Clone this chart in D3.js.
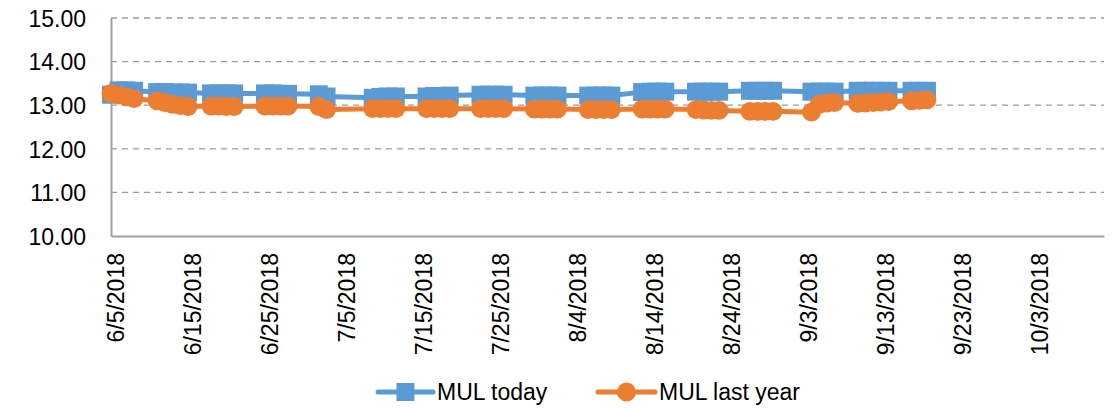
<!DOCTYPE html>
<html>
<head>
<meta charset="utf-8">
<script src="https://cdn.jsdelivr.net/npm/d3@7/dist/d3.min.js"></script>
<style>
  html, body { margin: 0; padding: 0; background: #fff; }
  svg { display: block; }
  text { font-family: "Liberation Sans", Arial, sans-serif; fill: #000; }
</style>
</head>
<body>
<svg id="chart" width="1116" height="409"></svg>
<script>
// ---- data ----
const dates = [
  "2018-06-05","2018-06-06","2018-06-07","2018-06-08",
  "2018-06-11","2018-06-12","2018-06-13","2018-06-14","2018-06-15",
  "2018-06-18","2018-06-19","2018-06-20","2018-06-21",
  "2018-06-25","2018-06-26","2018-06-27","2018-06-28",
  "2018-07-02","2018-07-03",
  "2018-07-09","2018-07-10","2018-07-11","2018-07-12",
  "2018-07-16","2018-07-17","2018-07-18","2018-07-19",
  "2018-07-23","2018-07-24","2018-07-25","2018-07-26",
  "2018-07-30","2018-07-31","2018-08-01","2018-08-02",
  "2018-08-06","2018-08-07","2018-08-08","2018-08-09",
  "2018-08-13","2018-08-14","2018-08-15","2018-08-16",
  "2018-08-20","2018-08-21","2018-08-22","2018-08-23",
  "2018-08-27","2018-08-28","2018-08-29","2018-08-30",
  "2018-09-04","2018-09-05","2018-09-06","2018-09-07",
  "2018-09-10","2018-09-11","2018-09-12","2018-09-13","2018-09-14",
  "2018-09-17","2018-09-18","2018-09-19"
];
const mulToday = [
  13.24,13.34,13.34,13.33,
  13.30,13.30,13.29,13.29,13.29,
  13.27,13.27,13.27,13.27,
  13.27,13.27,13.26,13.26,
  13.25,13.20,
  13.17,13.19,13.20,13.20,
  13.20,13.21,13.21,13.22,
  13.24,13.24,13.24,13.24,
  13.22,13.22,13.22,13.22,
  13.22,13.22,13.22,13.22,
  13.30,13.31,13.31,13.31,
  13.31,13.31,13.31,13.31,
  13.33,13.33,13.33,13.33,
  13.31,13.31,13.31,13.31,
  13.33,13.33,13.33,13.33,13.33,
  13.33,13.33,13.33
];
const mulLastYear = [
  13.27,13.23,13.19,13.15,
  13.10,13.06,13.02,12.99,12.97,
  12.98,12.98,12.97,12.97,
  12.98,12.98,12.98,12.98,
  12.97,12.90,
  12.92,12.92,12.92,12.92,
  12.92,12.92,12.92,12.92,
  12.92,12.92,12.92,12.92,
  12.91,12.91,12.91,12.91,
  12.90,12.90,12.90,12.90,
  12.91,12.91,12.91,12.91,
  12.90,12.89,12.88,12.88,
  12.86,12.86,12.86,12.86,
  12.84,13.02,13.05,13.06,
  13.04,13.05,13.06,13.07,13.08,
  13.10,13.11,13.12
];
const xTickLabels = ["6/5/2018","6/15/2018","6/25/2018","7/5/2018","7/15/2018","7/25/2018",
  "8/4/2018","8/14/2018","8/24/2018","9/3/2018","9/13/2018","9/23/2018","10/3/2018"];
const yTicks = [10, 11, 12, 13, 14, 15];
const seriesNames = ["MUL today", "MUL last year"];
const xDomain = ["2018-06-05", "2018-10-12"];

// ---- chart ----
const parse = d3.timeParse("%Y-%m-%d");
const parseLabel = d3.timeParse("%m/%d/%Y");
const svg = d3.select("#chart");
const mLeft = 111, mRight = 1104, mTop = 18, mBottom = 236;
const x = d3.scaleTime().domain(xDomain.map(parse)).range([mLeft, mRight]);
const y = d3.scaleLinear().domain([10, 15]).range([mBottom, mTop]);
const blue = "#5B9BD5", orange = "#ED7D31";
const fontSize = 23;

// gridlines
svg.append("g").selectAll("line").data(yTicks.filter(v => v > 10)).join("line")
  .attr("x1", mLeft).attr("x2", mRight)
  .attr("y1", d => y(d)).attr("y2", d => y(d))
  .attr("stroke", "#9b9b9b").attr("stroke-width", 1.3).attr("stroke-dasharray", "6,5");

// y axis via d3
const yAxis = d3.axisLeft(y).tickValues(yTicks).tickSize(0).tickPadding(25)
  .tickFormat(d3.format(".2f"));
const gy = svg.append("g").attr("transform", `translate(${mLeft},0)`).call(yAxis);
gy.select(".domain").attr("stroke", "#a0a0a0").attr("stroke-width", 2);
gy.selectAll("text").attr("font-size", fontSize).attr("font-family", "Liberation Sans, Arial, sans-serif")
  .attr("dy", "0.36em").attr("fill", "#000");

// x axis via d3
const tickDates = xTickLabels.map(parseLabel);
const xAxis = d3.axisBottom(x).tickValues(tickDates).tickSize(0)
  .tickFormat((d, i) => xTickLabels[i]);
const gx = svg.append("g").attr("transform", `translate(0,${mBottom})`).call(xAxis);
gx.select(".domain").attr("stroke", "#a0a0a0").attr("stroke-width", 2);
gx.selectAll(".tick text")
  .attr("font-size", fontSize).attr("font-family", "Liberation Sans, Arial, sans-serif")
  .attr("fill", "#000")
  .attr("text-anchor", "end")
  .attr("x", 0).attr("y", 0).attr("dy", "0.36em")
  .attr("transform", "translate(4,17) rotate(-90)");

// series
const pts = (vals) => dates.map((d, i) => ({ d: parse(d), v: vals[i] }));
const line = d3.line().x(p => x(p.d)).y(p => y(p.v));
const sq = 18, rad = 9.4;

const bluePts = pts(mulToday);
svg.append("path").datum(bluePts).attr("d", line)
  .attr("fill", "none").attr("stroke", blue).attr("stroke-width", 5).attr("stroke-linejoin", "round");
svg.append("g").selectAll("rect").data(bluePts).join("rect")
  .attr("x", p => x(p.d) - sq / 2).attr("y", p => y(p.v) - sq / 2)
  .attr("width", sq).attr("height", sq).attr("fill", blue);

const orPts = pts(mulLastYear);
svg.append("path").datum(orPts).attr("d", line)
  .attr("fill", "none").attr("stroke", orange).attr("stroke-width", 5).attr("stroke-linejoin", "round");
svg.append("g").selectAll("circle").data(orPts).join("circle")
  .attr("cx", p => x(p.d)).attr("cy", p => y(p.v)).attr("r", rad).attr("fill", orange);

// legend
const lg = svg.append("g");
const legendY = 392;
const items = [
  { name: seriesNames[0], color: blue, x0: 378, x1: 433, shape: "square" },
  { name: seriesNames[1], color: orange, x0: 598, x1: 655, shape: "circle" }
];
items.forEach(it => {
  lg.append("line").attr("x1", it.x0).attr("x2", it.x1).attr("y1", legendY).attr("y2", legendY)
    .attr("stroke", it.color).attr("stroke-width", 5).attr("stroke-linecap", "round");
  const cx = (it.x0 + it.x1) / 2;
  if (it.shape === "square") {
    lg.append("rect").attr("x", cx - 9).attr("y", legendY - 9).attr("width", 18).attr("height", 18).attr("fill", it.color);
  } else {
    lg.append("circle").attr("cx", cx).attr("cy", legendY).attr("r", 9.5).attr("fill", it.color);
  }
  lg.append("text").attr("x", it.x1 + 4).attr("y", 400).attr("font-size", fontSize).text(it.name);
});
</script>
</body>
</html>
